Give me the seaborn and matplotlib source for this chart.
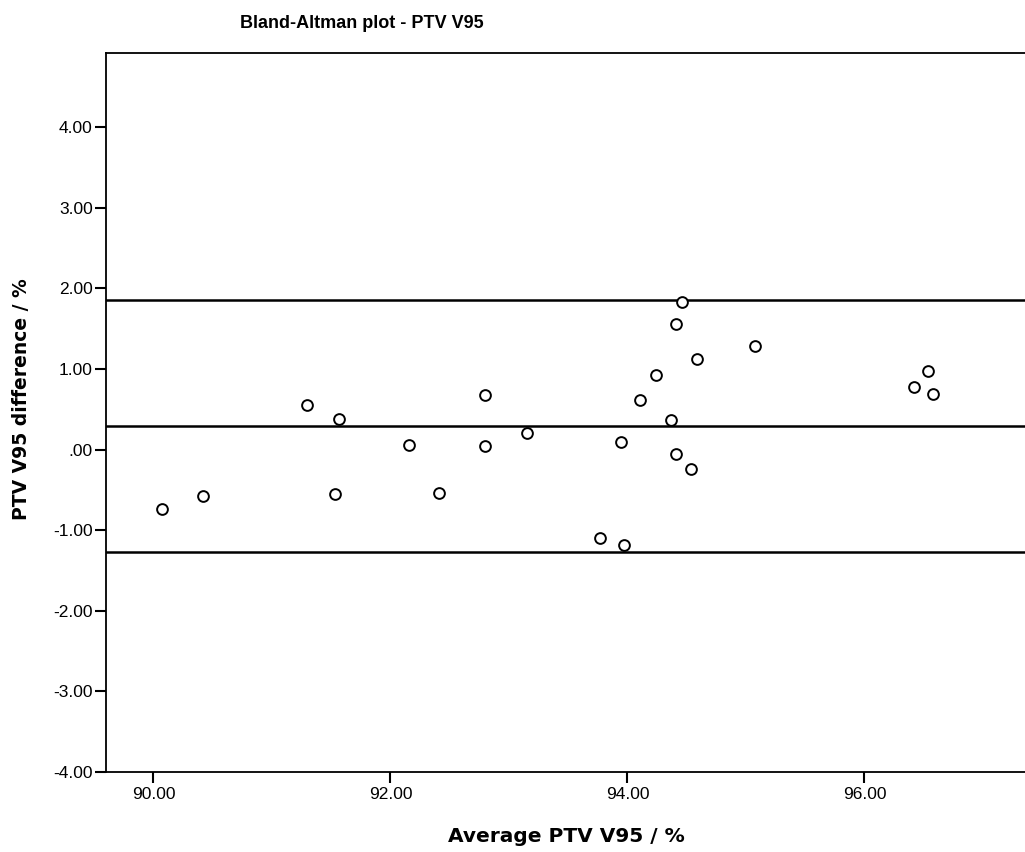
import matplotlib
matplotlib.use("Agg")
import matplotlib.pyplot as plt
import seaborn as sns
import pandas as pd

# ---- data ----
avg_ptv_v95 = [90.07, 90.42, 91.30, 91.57, 91.53, 92.16, 92.41, 92.80, 92.80, 93.15,
               93.77, 93.95, 93.97, 94.11, 94.24, 94.37, 94.41, 94.41, 94.46, 94.54,
               94.59, 95.08, 96.42, 96.54, 96.58]
diff_ptv_v95 = [-0.74, -0.57, 0.55, 0.38, -0.55, 0.06, -0.54, 0.68, 0.05, 0.20,
                -1.10, 0.09, -1.18, 0.62, 0.93, 0.37, 1.56, -0.06, 1.83, -0.24,
                1.13, 1.28, 0.78, 0.97, 0.69]
ref_lines = [1.85, 0.29, -1.27]  # upper LoA, mean difference, lower LoA

x_ticks = [90, 92, 94, 96]
x_tick_labels = ["90.00", "92.00", "94.00", "96.00"]
y_ticks = [-4, -3, -2, -1, 0, 1, 2, 3, 4]
y_tick_labels = ["-4.00", "-3.00", "-2.00", "-1.00", ".00", "1.00", "2.00", "3.00", "4.00"]

title = "Bland-Altman plot - PTV V95"
x_label = "Average PTV V95 / %"
y_label = "PTV V95 difference / %"

df = pd.DataFrame({"avg": avg_ptv_v95, "diff": diff_ptv_v95})

sns.set_theme(style="white")
plt.rcParams["font.family"] = ["Liberation Sans", "DejaVu Sans"]

W, H = 1025, 852
fig = plt.figure(figsize=(W / 100, H / 100), dpi=100)
fig.patch.set_facecolor("white")
ax = fig.add_axes([106 / W, 80 / H, 919 / W, 719 / H])
ax.set_facecolor("white")

for v in ref_lines:
    ax.axhline(v, color="black", lw=1.8, zorder=1)

sns.scatterplot(data=df, x="avg", y="diff", ax=ax, marker="o", s=60,
                facecolor="white", edgecolor="black", linewidth=1.4, zorder=3,
                legend=False)

ax.set_xlim(89.60, 89.60 + 919 / 118.5)
ax.set_ylim(-4.0, -4.0 + 719 / 80.6)

ax.set_xticks(x_ticks)
ax.set_xticklabels(x_tick_labels)
ax.set_yticks(y_ticks)
ax.set_yticklabels(y_tick_labels)

ax.tick_params(axis="both", which="major", direction="out", length=8, width=1.5,
               color="black", labelsize=12.5, labelcolor="black", bottom=True, left=True)
ax.tick_params(axis="y", pad=1.5)
ax.tick_params(axis="x", pad=3)

for side in ["left", "bottom", "top"]:
    ax.spines[side].set_visible(True)
    ax.spines[side].set_color("black")
    ax.spines[side].set_linewidth(1.3)
ax.spines["right"].set_visible(False)

ax.set_xlabel("")
ax.set_ylabel("")

fig.text(566 / W, 1 - 836 / H, x_label, ha="center", va="center",
         fontsize=14.5, fontweight="bold", family="DejaVu Sans", color="black")
fig.text(22 / W, 1 - 399 / H, y_label, ha="center", va="center", rotation=90,
         fontsize=13.5, fontweight="bold", family="DejaVu Sans", color="black")
fig.text(362 / W, 1 - 24 / H, title, ha="center", va="center",
         fontsize=13, fontweight="bold", color="black")

fig.savefig("out.png", dpi=100, facecolor="white")
